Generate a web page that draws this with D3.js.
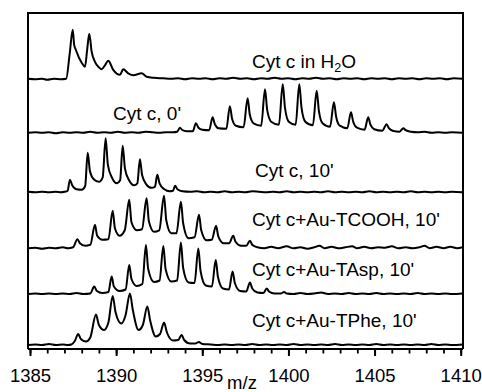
<!DOCTYPE html>
<html>
<head>
<meta charset="utf-8">
<script src="https://cdn.jsdelivr.net/npm/d3@7"></script>
<style>
  body { margin: 0; background: #fff; }
  svg { display: block; }
  text { font-family: Arial, "Liberation Sans", sans-serif; fill: #000; }
</style>
</head>
<body>
<svg id="chart" width="482" height="392"></svg>
<script>
// spectra as [m/z, intensity (a.u.)]
const cytH2O = [
  [1384.9,1],[1385.3,0],[1385.7,1],[1386.0,-1],[1386.4,1],[1386.8,0],[1387.1,1],
  [1387.3,50],[1387.48,99],[1387.56,70],[1387.67,58],[1388.0,33],[1388.19,25],[1388.32,60],
  [1388.44,91],[1388.58,55],[1388.77,35],[1389.0,24],[1389.16,20],[1389.35,28],[1389.54,37],
  [1389.83,19],[1390.22,9],[1390.41,20],[1390.7,12],[1391.0,8],[1391.48,12],[1391.77,5],
  [1392.2,3],[1392.72,2],[1393.2,1],[1393.6,2],[1394.0,0],[1394.4,2],[1394.8,1],[1395.2,2],
  [1395.6,0],[1396.0,2],[1396.4,1],[1396.8,3],[1397.2,1],[1397.6,2],[1398.0,0],[1398.4,2],
  [1398.8,1],[1399.2,3],[1399.6,1],[1400.0,2],[1400.4,0],[1400.8,2],[1401.2,1],[1401.6,3],
  [1402.0,1],[1402.4,2],[1402.8,0],[1403.2,2],[1403.6,1],[1404.0,2],[1404.4,0],[1404.8,2],
  [1405.2,1],[1405.6,2],[1406.0,0],[1406.4,2],[1406.8,1],[1407.2,2],[1407.6,0],[1408.0,2],
  [1408.4,1],[1408.8,2],[1409.2,0],[1409.6,2],[1410.1,1]
];
const cyt0 = [
  [1384.9,0],[1385.3,1],[1385.7,0],[1386.1,1],[1386.5,-1],[1386.9,1],[1387.3,0],[1387.7,1],
  [1388.1,0],[1388.5,2],[1388.9,0],[1389.3,1],[1389.7,0],[1390.1,2],[1390.5,0],[1390.9,1],
  [1391.3,0],[1391.7,2],[1392.1,1],[1392.5,0],[1392.9,1],[1393.3,1],[1393.55,2],[1393.7,10],
  [1393.85,5],[1394.1,3],[1394.45,3],[1394.63,19],[1394.78,10],[1395.0,6],[1395.4,5],
  [1395.6,31],[1395.73,17],[1395.95,9],[1396.4,8],[1396.6,53],[1396.73,28],[1396.95,14],
  [1397.4,11],[1397.63,69],[1397.76,36],[1398.0,18],[1398.42,14],[1398.64,87],[1398.77,45],
  [1399.0,22],[1399.45,16],[1399.67,97],[1399.8,50],[1400.02,22],[1400.42,16],[1400.63,97],
  [1400.76,50],[1400.98,22],[1401.42,15],[1401.64,84],[1401.77,43],[1401.98,19],[1402.42,12],
  [1402.64,61],[1402.77,32],[1402.98,14],[1403.42,9],[1403.63,41],[1403.76,22],[1403.98,10],
  [1404.42,6],[1404.63,31],[1404.76,16],[1404.98,7],[1405.45,4],[1405.7,17],[1405.83,9],
  [1406.05,4],[1406.45,2],[1406.67,9],[1406.8,5],[1407.1,2],[1407.5,1],[1407.9,2],[1408.3,0],
  [1408.7,1],[1409.1,0],[1409.5,1],[1410.1,0]
];
const cyt10 = [
  [1384.9,1],[1385.3,0],[1385.7,1],[1386.1,0],[1386.5,1],[1386.8,0],[1387.0,1],[1387.18,3],
  [1387.32,25],[1387.45,14],[1387.7,6],[1388.0,5],[1388.2,12],[1388.35,79],[1388.48,42],
  [1388.7,26],[1389.0,21],[1389.22,30],[1389.39,108],[1389.52,55],[1389.75,30],[1390.05,18],
  [1390.23,24],[1390.38,93],[1390.51,48],[1390.75,24],[1391.05,14],[1391.23,18],[1391.38,66],
  [1391.51,34],[1391.75,16],[1392.05,9],[1392.25,11],[1392.39,35],[1392.52,18],[1392.8,6],
  [1393.1,2],[1393.3,3],[1393.42,13],[1393.56,6],[1393.85,2],[1394.3,1],[1394.7,2],[1395.1,0],
  [1395.5,1],[1395.9,0],[1396.3,2],[1396.7,0],[1397.1,1],[1397.5,0],[1397.9,2],[1398.3,1],
  [1398.7,0],[1399.1,1],[1399.5,0],[1399.9,2],[1400.3,0],[1400.7,1],[1401.1,0],[1401.5,1],
  [1401.9,0],[1402.3,2],[1402.7,0],[1403.1,1],[1403.5,0],[1403.9,1],[1404.3,0],[1404.7,2],
  [1405.1,0],[1405.5,1],[1405.9,0],[1406.3,1],[1406.7,0],[1407.1,2],[1407.5,0],[1407.9,1],
  [1408.3,0],[1408.7,1],[1409.1,0],[1409.5,1],[1410.1,0]
];
const cytTCOOH = [
  [1384.9,0],[1385.3,1],[1385.7,-1],[1386.1,1],[1386.5,0],[1386.9,2],[1387.2,0],[1387.5,2],
  [1387.75,18],[1387.9,10],[1388.2,5],[1388.5,7],[1388.77,47],[1388.9,25],[1389.2,17],
  [1389.55,18],[1389.8,75],[1389.93,40],[1390.2,25],[1390.5,36],[1390.76,97],[1390.89,52],
  [1391.2,36],[1391.5,38],[1391.77,100],[1391.9,54],[1392.2,33],[1392.5,36],[1392.78,105],
  [1392.91,56],[1393.2,30],[1393.5,30],[1393.76,93],[1393.89,50],[1394.2,20],[1394.55,22],
  [1394.81,67],[1394.94,36],[1395.25,16],[1395.55,17],[1395.8,45],[1395.93,24],[1396.25,10],
  [1396.55,10],[1396.8,25],[1396.93,13],[1397.25,5],[1397.55,5],[1397.77,15],[1397.9,7],
  [1398.2,2],[1398.6,0],[1399.0,3],[1399.4,0],[1399.9,4],[1400.3,0],[1400.7,2],[1401.1,-1],
  [1401.5,2],[1401.8,5],[1402.1,0],[1402.5,3],[1402.9,0],[1403.3,2],[1403.7,4],[1404.0,0],
  [1404.4,3],[1404.8,0],[1405.2,2],[1405.6,1],[1406.0,4],[1406.4,0],[1406.8,2],[1407.2,0],
  [1407.6,2],[1407.9,5],[1408.2,0],[1408.6,3],[1409.0,0],[1409.4,3],[1409.8,0],[1410.1,2]
];
const cytTAsp = [
  [1384.9,0],[1385.3,1],[1385.7,0],[1386.1,1],[1386.5,0],[1386.9,1],[1387.3,0],[1387.7,2],
  [1388.1,0],[1388.5,1],[1388.73,15],[1388.88,6],[1389.2,2],[1389.55,4],[1389.74,35],
  [1389.87,15],[1390.2,6],[1390.55,9],[1390.76,58],[1390.89,30],[1391.2,16],[1391.52,20],
  [1391.73,98],[1391.86,50],[1392.2,24],[1392.52,27],[1392.74,96],[1392.87,50],[1393.2,25],
  [1393.54,27],[1393.76,103],[1393.89,52],[1394.2,23],[1394.55,22],[1394.77,91],[1394.9,46],
  [1395.2,17],[1395.56,15],[1395.78,68],[1395.91,34],[1396.2,11],[1396.55,9],[1396.76,45],
  [1396.89,22],[1397.2,6],[1397.55,5],[1397.77,23],[1397.9,11],[1398.2,3],[1398.55,2],
  [1398.74,11],[1398.87,5],[1399.2,1],[1399.55,1],[1399.75,4],[1399.9,1],[1400.3,0],
  [1400.7,2],[1401.1,0],[1401.5,1],[1401.9,3],[1402.3,0],[1402.7,1],[1403.1,0],[1403.5,2],
  [1403.9,0],[1404.3,1],[1404.7,0],[1405.1,2],[1405.5,0],[1405.9,1],[1406.3,0],[1406.7,1],
  [1407.1,0],[1407.5,2],[1407.9,0],[1408.3,1],[1408.7,0],[1409.1,1],[1409.5,0],[1410.1,1]
];
const cytTPhe = [
  [1384.9,0],[1385.3,1],[1385.7,0],[1386.1,2],[1386.5,0],[1386.9,1],[1387.2,0],[1387.4,1],
  [1387.6,8],[1387.8,22],[1387.95,12],[1388.25,7],[1388.5,15],[1388.83,61],[1389.0,40],
  [1389.3,30],[1389.55,45],[1389.8,98],[1389.97,65],[1390.3,43],[1390.55,60],[1390.8,103],
  [1390.97,70],[1391.3,30],[1391.55,40],[1391.81,77],[1391.98,48],[1392.3,17],[1392.55,22],
  [1392.78,45],[1392.95,25],[1393.3,9],[1393.6,10],[1393.8,20],[1393.95,10],[1394.3,3],
  [1394.6,3],[1394.8,6],[1395.0,2],[1395.5,1],[1395.9,0],[1396.3,1],[1396.7,0],[1397.1,1],
  [1397.5,0],[1397.9,2],[1398.3,0],[1398.7,1],[1399.1,0],[1399.5,1],[1399.9,0],[1400.3,2],
  [1400.7,0],[1401.1,1],[1401.5,0],[1401.9,1],[1402.3,0],[1402.7,2],[1403.1,0],[1403.5,1],
  [1403.9,0],[1404.3,1],[1404.7,0],[1405.1,2],[1405.5,0],[1405.9,1],[1406.3,0],[1406.7,1],
  [1407.1,0],[1407.5,1],[1407.9,0],[1408.3,2],[1408.7,0],[1409.1,1],[1409.5,0],[1410.1,1]
];

const spectra = [cytH2O, cyt0, cyt10, cytTCOOH, cytTAsp, cytTPhe];
const labels = ["Cyt c in H|2|O", "Cyt c, 0'", "Cyt c, 10'", "Cyt c+Au-TCOOH, 10'", "Cyt c+Au-TAsp, 10'", "Cyt c+Au-TPhe, 10'"];
const majorTicks = [1385, 1390, 1395, 1400, 1405, 1410];
const minorTicks = d3.range(1385, 1411);
const xTitle = "m/z";

// layout
const baseY = [79.3, 132.7, 192.3, 248.3, 294, 345];
const labelPos = [[252, 67.5], [113, 119.8], [255, 176.8], [252, 225.5], [252, 275.5], [252, 327]];
const frame = {left: 28, right: 463, top: 13, bottom: 349};

const svg = d3.select("#chart");

const x = d3.scaleLinear().domain([1385, 1410]).range([30, 460.7]);
const h = d3.scaleLinear().domain([0, 100]).range([0, -50]);

// traces
spectra.forEach(function (s, i) {
  const line = d3.line()
    .x(d => x(d[0]))
    .y(d => baseY[i] + h(d[1]))
    .curve(d3.curveMonotoneX);
  svg.append("path")
    .datum(s)
    .attr("d", line)
    .attr("fill", "none")
    .attr("stroke", "#000")
    .attr("stroke-width", 2)
    .attr("stroke-linejoin", "round");
});

// frame
svg.append("path")
  .attr("d", `M${frame.left},${frame.bottom}V${frame.top}H${frame.right}V${frame.bottom}`)
  .attr("fill", "none")
  .attr("stroke", "#000")
  .attr("stroke-width", 2);

svg.append("line")
  .attr("x1", frame.left).attr("x2", frame.right)
  .attr("y1", frame.bottom).attr("y2", frame.bottom)
  .attr("stroke", "#000").attr("stroke-width", 2);

// axes
const minorAxis = svg.append("g")
  .attr("transform", `translate(0,${frame.bottom})`)
  .call(d3.axisBottom(x).tickValues(minorTicks).tickSize(4.5).tickFormat(""));
minorAxis.select(".domain").remove();
minorAxis.selectAll("line").attr("stroke-width", 1.8);

const majorAxis = svg.append("g")
  .attr("transform", `translate(0,${frame.bottom})`)
  .call(d3.axisBottom(x).tickValues(majorTicks).tickSize(7).tickFormat(d3.format("d")));
majorAxis.select(".domain").remove();
majorAxis.selectAll("line").attr("stroke-width", 2);
majorAxis.selectAll("text")
  .attr("y", 32.5)
  .attr("dy", null)
  .style("font-size", "18.5px")
  .style("font-family", "Arial, 'Liberation Sans', sans-serif")
  .attr("fill", "#000");

svg.append("text")
  .attr("x", 242)
  .attr("y", 388.5)
  .attr("text-anchor", "middle")
  .style("font-size", "18.5px")
  .text(xTitle);

// labels
labels.forEach(function (t, i) {
  const parts = t.split("|");
  const el = svg.append("text")
    .attr("x", labelPos[i][0])
    .attr("y", labelPos[i][1])
    .style("font-size", "19px");
  if (parts.length === 1) {
    el.text(t);
  } else {
    el.append("tspan").text(parts[0]);
    el.append("tspan").attr("dy", 4.5).style("font-size", "12.5px").text(parts[1]);
    el.append("tspan").attr("dy", -4.5).text(parts[2]);
  }
});
</script>
</body>
</html>
